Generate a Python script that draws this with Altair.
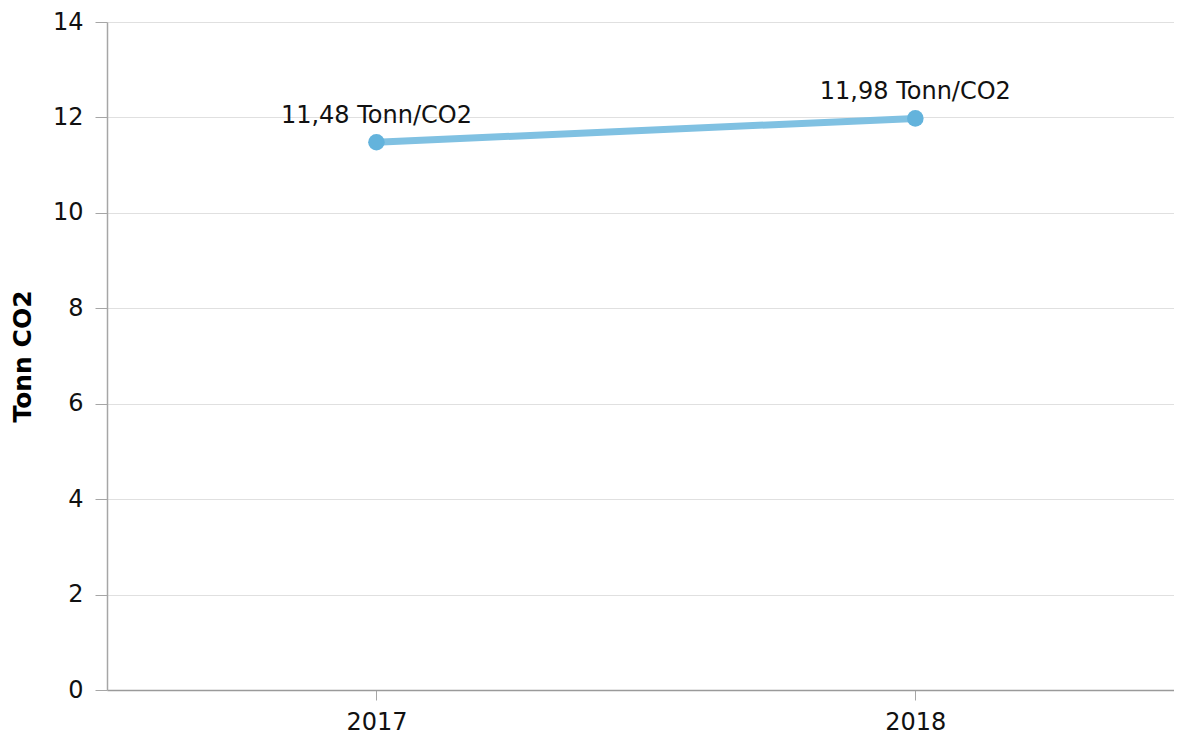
import altair as alt
import pandas as pd

years = [2017, 2018]
values = [11.48, 11.98]
unit = "Tonn/CO2"
y_ticks = [0, 2, 4, 6, 8, 10, 12, 14]
x_axis_values = [2017, 2017.5, 2018]

labels = [f"{v:.2f}".replace(".", ",") + " " + unit for v in values]
df = pd.DataFrame({"year": years, "value": values, "label": labels})

FONT = "DejaVu Sans"

x_enc = alt.X(
    "year:Q",
    scale=alt.Scale(domain=[2016.5, 2018.48], nice=False, zero=False),
    axis=alt.Axis(
        title=None,
        values=x_axis_values,
        format="d",
        labelExpr="datum.value == 2017.5 ? '' : datum.label",
        grid=True,
        gridColor="#e0e0e0",
        gridOpacity={"condition": {"test": "datum.value == 2017.5", "value": 1}, "value": 0},
        tickOpacity={"condition": {"test": "datum.value == 2017.5", "value": 0}, "value": 1},
        tickColor="#a6a6a6",
        tickSize=10,
        domainColor="#9a9a9a",
        domainWidth=1.5,
        labelFontSize=24,
        labelFont=FONT,
        labelColor="#111111",
        labelPadding=10,
        labelFlush=False,
    ),
)

y_enc = alt.Y(
    "value:Q",
    scale=alt.Scale(domain=[0, 14], nice=False),
    axis=alt.Axis(
        title="Tonn CO2",
        values=y_ticks,
        grid=True,
        gridColor="#e0e0e0",
        tickColor="#a6a6a6",
        tickSize=12,
        domainColor="#a6a6a6",
        domainWidth=1.5,
        labelFontSize=24,
        labelFont=FONT,
        labelColor="#111111",
        labelPadding=12,
        titleFontSize=25,
        titleFont=FONT,
        titleFontWeight="bold",
        titleColor="#000000",
        titlePadding=16,
        minExtent=56,
        maxExtent=56,
    ),
)

base = alt.Chart(df).encode(x=x_enc, y=y_enc)

line = base.mark_line(color="#80c1e2", strokeWidth=7)
points = base.mark_circle(color="#63b3dc", size=275, opacity=1)
text = base.mark_text(
    baseline="alphabetic", dy=-19, fontSize=24, font=FONT, color="#111111"
).encode(text="label:N")

chart = (
    alt.layer(line, points, text)
    .properties(width=1067, height=668, padding={"left": 2, "top": 2, "right": 0, "bottom": 0})
    .configure_view(stroke=None)
)

chart.save("out.html", embed_options={"renderer": "svg", "actions": False})
